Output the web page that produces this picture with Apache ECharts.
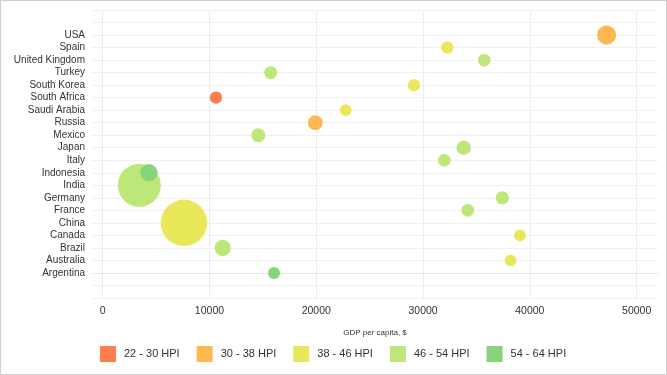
<!DOCTYPE html>
<html>
<head>
<meta charset="utf-8">
<script src="https://cdn.jsdelivr.net/npm/echarts@6/dist/echarts.min.js"></script>
<style>
  html, body { margin: 0; padding: 0; background: #fff; }
  #wrap { position: relative; width: 667px; height: 375px; }
  #chart { width: 667px; height: 375px; }
  #frame { position: absolute; left: 0; top: 0; width: 665px; height: 373px;
           border: 1px solid #cfcfcf; pointer-events: none; }
</style>
</head>
<body>
<div id="wrap">
  <div id="chart"></div>
  <div id="frame"></div>
</div>
<script>
// countries, bottom to top
var countries = ['Argentina', 'Australia', 'Brazil', 'Canada', 'China', 'France', 'Germany',
    'India', 'Indonesia', 'Italy', 'Japan', 'Mexico', 'Russia', 'Saudi Arabia',
    'South Africa', 'South Korea', 'Turkey', 'United Kingdom', 'Spain', 'USA'];
// GDP per capita, $
var gdp = [16040, 38200, 11240, 39070, 7610, 34180, 37420,
    3430, 4330, 31990, 33800, 14570, 19910, 22750,
    10610, 29150, 15730, 35730, 32270, 47190];
// population, millions (bubble size)
var population = [40, 22, 195, 34, 1340, 65, 82,
    1210, 240, 60, 127, 113, 143, 27,
    50, 49, 73, 62, 46, 309];
// HPI band index per country
var hpiBand = [4, 2, 3, 2, 2, 3, 3,
    3, 4, 3, 3, 3, 1, 2,
    0, 2, 3, 3, 2, 1];
var bands = ['22 - 30 HPI', '30 - 38 HPI', '38 - 46 HPI', '46 - 54 HPI', '54 - 64 HPI'];
var bandColors = ['#ff7c4c', '#ffb850', '#e8e85a', '#bde879', '#88d47a'];

var font = '"Liberation Sans", Arial, sans-serif';
var myChart = echarts.init(document.getElementById('chart'));

var series = bands.map(function (name, b) {
    var data = [];
    countries.forEach(function (c, i) {
        if (hpiBand[i] === b) data.push([gdp[i], i, population[i], c]);
    });
    return {
        name: name,
        type: 'scatter',
        symbol: 'circle',
        symbolSize: function (v) { return 11 + v[2] * 0.0265; },
        itemStyle: { color: bandColors[b], opacity: 1 },
        emphasis: { disabled: true },
        data: data
    };
});

var option = {
    backgroundColor: '#fff',
    textStyle: { fontFamily: font },
    animation: false,
    grid: { left: 92, right: 9, top: 10, bottom: 77 },
    xAxis: {
        type: 'value',
        min: -1000,
        max: 52000,
        name: 'GDP per capita, $',
        nameLocation: 'middle',
        nameGap: 31,
        nameTextStyle: { fontSize: 8, color: '#333', fontFamily: font },
        axisLine: { show: true, lineStyle: { color: '#e8e8e8' } },
        axisTick: { show: false },
        axisLabel: {
            fontSize: 10.5, color: '#333', margin: 8, fontFamily: font,
            showMinLabel: false, showMaxLabel: false,
            formatter: function (v) { return String(v); }
        },
        splitLine: { show: true, showMinLine: false, showMaxLine: false, lineStyle: { color: '#ececec' } }
    },
    yAxis: {
        type: 'value',
        min: -2,
        max: 21,
        interval: 1,
        axisLine: { show: false },
        axisTick: { show: false },
        axisLabel: {
            fontSize: 10,
            color: '#333',
            margin: 7,
            padding: [2, 0, 0, 0],
            fontFamily: font,
            formatter: function (v) { return countries[v] || ''; }
        },
        splitLine: { show: true, lineStyle: { color: '#f0f0f0' } }
    },
    legend: {
        left: 100,
        top: 346,
        padding: 0,
        icon: 'rect',
        itemWidth: 16,
        itemHeight: 16,
        itemGap: 17,
        textStyle: { fontSize: 11, color: '#333', padding: [0, 0, 0, 3], fontFamily: font },
        data: bands
    },
    series: series
};
myChart.setOption(option);
</script>
</body>
</html>
